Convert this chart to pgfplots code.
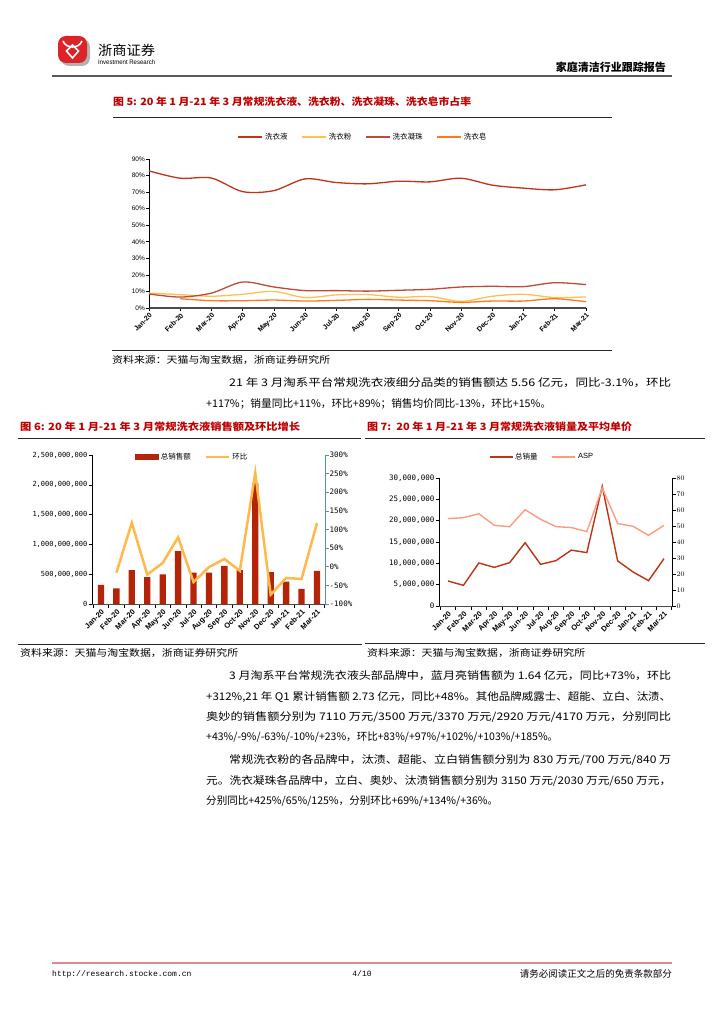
\documentclass[border=0pt]{standalone}
\usepackage{fontspec}
\setmainfont{Noto Sans CJK SC}
\newfontfamily\lib{Liberation Sans}
\newfontfamily\lmono{Liberation Mono}
\newfontfamily\dmono{DejaVu Sans Mono}
\usepackage{graphicx}
\usepackage{pgfplots}
\pgfplotsset{compat=1.18}
\definecolor{titlered}{RGB}{192,0,0}
\definecolor{ca}{RGB}{196,50,26}
\definecolor{cb}{RGB}{255,192,80}
\definecolor{cc}{RGB}{190,75,55}
\definecolor{cd}{RGB}{255,120,30}
\definecolor{barred}{RGB}{180,36,8}
\definecolor{hbline}{RGB}{255,185,75}
\definecolor{blueax}{RGB}{85,140,200}
\definecolor{volred}{RGB}{192,50,20}
\definecolor{aspc}{RGB}{255,155,125}
\definecolor{footred}{RGB}{220,140,140}
\definecolor{logored}{RGB}{220,35,40}
\newcommand{\tline}[4]{\node[anchor=west,inner sep=0pt,font=\fontsize{10.5}{12}\selectfont] at (#1pt,-#2pt) {\resizebox{#3pt}{\height}{#4}};}
\newcommand{\ttitle}[4]{\node[anchor=west,inner sep=0pt,text=titlered,font=\bfseries\fontsize{10}{11}\selectfont] at (#1pt,-#2pt) {\resizebox{#3pt}{\height}{#4}};}
\newcommand{\tsrc}[2]{\node[anchor=west,inner sep=0pt,font=\fontsize{9.5}{10}\selectfont] at (#1pt,-#2pt) {\resizebox{218pt}{\height}{资料来源：天猫与淘宝数据，浙商证券研究所}};}
\newcommand{\myrule}[4]{\draw[#4] (#1pt,-#3pt) -- (#2pt,-#3pt);}
\begin{document}
\begin{tikzpicture}
\useasboundingbox (0pt,0pt) rectangle (724pt,-1024pt);
\fill[white] (0pt,0pt) rectangle (724pt,-1024pt);
% header
\fill[black!30, rounded corners=8pt] (61pt,-39pt) rectangle (90pt,-66pt);
\fill[logored, rounded corners=8pt] (58pt,-36pt) rectangle (87pt,-63pt);
\draw[white, line width=1.6pt] (63pt,-41pt) .. controls (66pt,-49pt) and (79pt,-49pt) .. (82pt,-41pt);
\draw[white, line width=1.6pt] (72.5pt,-45pt) -- (66.5pt,-51pt) -- (72.5pt,-58pt) -- (78.5pt,-51pt) -- cycle;
\node[anchor=west,inner sep=0pt,font=\fontsize{13.5}{14}\selectfont] at (98pt,-50pt) {\resizebox{57pt}{\height}{浙商证券}};
\node[anchor=west,inner sep=0pt,font=\lib\fontsize{6.5}{7}\selectfont] at (98pt,-62.5pt) {\resizebox{57pt}{\height}{Investment Research}};
\node[anchor=east,inner sep=0pt,font=\bfseries\fontsize{11}{12}\selectfont] at (666pt,-67pt) {家庭清洁行业跟踪报告};
\myrule{52}{672}{76}{black!65, line width=1.3pt}
% figure 5
\ttitle{113}{102}{358}{图 5: 20 年 1 月-21 年 3 月常规洗衣液、洗衣粉、洗衣凝珠、洗衣皂市占率}
\myrule{113}{612}{117}{black!85, line width=0.8pt}
\begin{axis}[at={(149pt,-308pt)}, anchor=south west, scale only axis, width=437pt, height=149pt,
 xmin=0, xmax=14, ymin=0, ymax=90, clip=false,
 axis x line=bottom, axis y line=left, axis line style={-},
 x axis line style={black!70, line width=1.5pt}, y axis line style={black, line width=0.9pt},
 xtick={0,...,14},
 xticklabels={Jan-20,Feb-20,Mar-20,Apr-20,May-20,Jun-20,Jul-20,Aug-20,Sep-20,Oct-20,Nov-20,Dec-20,Jan-21,Feb-21,Mar-21},
 x tick label style={rotate=45, anchor=north east, inner sep=1pt, font=\lib\bfseries\fontsize{7}{7}\selectfont},
 ytick={0,10,...,90},
 yticklabels={0\%,10\%,20\%,30\%,40\%,50\%,60\%,70\%,80\%,90\%},
 y tick label style={font=\lib\fontsize{6.5}{7}\selectfont, inner sep=1pt},
 tick align=outside, major tick length=3pt, tick style={black, line width=0.6pt},
 legend style={at={(0.49,1.148)}, anchor=center, draw=none, fill=none, legend columns=4,
   font=\fontsize{7.5}{8}\selectfont, /tikz/every even column/.append style={column sep=12pt}},
 legend image code/.code={\draw[#1] (0pt,0pt) -- (24pt,0pt);},
]
\addplot[ca, line width=1.3pt, smooth] coordinates {(0,82.8) (1,78.4) (2,78.5) (3,70.3) (4,70.9) (5,78.0) (6,75.8) (7,75.0) (8,76.6) (9,76.2) (10,78.4) (11,74.2) (12,72.4) (13,71.4) (14,74.4)};
\addlegendentry{洗衣液}
\addplot[cb, line width=1.3pt, smooth] coordinates {(0,9.0) (1,8.1) (2,7.1) (3,8.3) (4,10.0) (5,6.3) (6,7.9) (7,8.1) (8,6.5) (9,6.9) (10,4.0) (11,7.1) (12,8.3) (13,6.3) (14,6.7)};
\addlegendentry{洗衣粉}
\addplot[cc, line width=1.3pt, smooth] coordinates {(0,8.5) (1,6.6) (2,9.0) (3,15.7) (4,12.7) (5,10.5) (6,10.5) (7,10.2) (8,10.7) (9,11.3) (10,12.7) (11,13.1) (12,12.9) (13,15.3) (14,14.1)};
\addlegendentry{洗衣凝珠}
\addplot[cd, line width=1.3pt, smooth] coordinates {(1,5.6) (2,4.4) (3,4.4) (4,4.8) (5,4.2) (6,4.6) (7,5.2) (8,4.8) (9,4.4) (10,3.4) (11,4.2) (12,4.2) (13,5.6) (14,3.8)};
\addlegendentry{洗衣皂}
\end{axis}
\myrule{112}{612}{350}{black!85, line width=0.8pt}
\tsrc{112}{360}
% paragraph 1
\tline{229}{383}{442}{21 年 3 月淘系平台常规洗衣液细分品类的销售额达 5.56 亿元，同比-3.1\%，环比}
\tline{206}{404}{345}{+117\%；销量同比+11\%，环比+89\%；销售均价同比-13\%，环比+15\%。}
% figure 6
\ttitle{20}{427}{280}{图 6: 20 年 1 月-21 年 3 月常规洗衣液销售额及环比增长}
\myrule{18}{361}{438}{black!85, line width=0.8pt}
\begin{axis}[at={(92pt,-604pt)}, anchor=south west, scale only axis, width=233pt, height=149pt,
 xmin=-0.58, xmax=14.52, ymin=0, ymax=2500,
 axis x line=bottom, axis y line=left, axis line style={-},
 x axis line style={black!70, line width=1pt}, y axis line style={black, line width=0.8pt},
 xtick={-0.5,0.5,...,14.5}, x tick label as interval,
 xticklabels={Jan-20,Feb-20,Mar-20,Apr-20,May-20,Jun-20,Jul-20,Aug-20,Sep-20,Oct-20,Nov-20,Dec-20,Jan-21,Feb-21,Mar-21},
 x tick label style={rotate=45, anchor=north east, inner sep=1pt, font=\lib\bfseries\fontsize{7.5}{7.5}\selectfont},
 ytick={0,500,...,2500},
 yticklabels={0,{500,000,000},{1,000,000,000},{1,500,000,000},{2,000,000,000},{2,500,000,000}},
 y tick label style={font=\dmono\fontsize{7}{7}\selectfont, inner sep=1pt},
 tick align=outside, major tick length=3.5pt, tick style={black, line width=0.6pt},
 ybar, bar width=6.3pt,
]
\addplot[fill=barred, draw=none] coordinates {(0,320) (1,263) (2,570) (3,453) (4,498) (5,889) (6,526) (7,526) (8,638) (9,570) (10,2025) (11,537) (12,375) (13,252) (14,556)};
\end{axis}
\begin{axis}[at={(92pt,-604pt)}, anchor=south west, scale only axis, width=233pt, height=149pt,
 xmin=-0.58, xmax=14.52, ymin=-100, ymax=300, xtick=\empty,
 axis x line=none, axis y line*=right, axis line style={-},
 y axis line style={blueax, line width=1pt},
 ytick={-100,-50,...,300},
 yticklabels={-100\%,-50\%,0\%,50\%,100\%,150\%,200\%,250\%,300\%},
 y tick label style={font=\dmono\fontsize{7.5}{7.5}\selectfont, inner sep=1pt},
 tick align=outside, major tick length=3.5pt, tick style={blueax, line width=0.6pt},
 legend style={at={(0.431,0.987)}, anchor=center, draw=none, fill=none, legend columns=2,
   font=\fontsize{7.5}{8}\selectfont, /tikz/every even column/.append style={column sep=12pt}},
 legend image code/.code={\draw[#1] (0pt,0pt) -- (23pt,0pt);},
]
\addlegendimage{legend image code/.code={\fill[barred] (0pt,-2.6pt) rectangle (23pt,2.6pt);}}
\addlegendentry{总销售额}
\addplot[hbline, line width=2.5pt] coordinates {(1,-16) (2,118) (3,-21) (4,10) (5,79) (6,-41) (7,-1) (8,21) (9,-11) (10,252) (11,-75) (12,-30) (13,-33) (14,117)};
\addlegendentry{环比}
\end{axis}
\myrule{18}{362}{644}{black!85, line width=0.8pt}
\tsrc{20}{653}
% figure 7
\ttitle{367}{427}{265}{图 7:\ \ 20 年 1 月-21 年 3 月常规洗衣液销量及平均单价}
\myrule{365}{705}{438}{black!85, line width=0.8pt}
\begin{axis}[at={(439pt,-606pt)}, anchor=south west, scale only axis, width=233pt, height=128pt,
 xmin=-0.58, xmax=14.52, ymin=0, ymax=30,
 axis x line=bottom, axis y line=left, axis line style={-},
 x axis line style={black!70, line width=1pt}, y axis line style={black, line width=0.8pt},
 xtick={-0.5,0.5,...,14.5}, x tick label as interval,
 xticklabels={Jan-20,Feb-20,Mar-20,Apr-20,May-20,Jun-20,Jul-20,Aug-20,Sep-20,Oct-20,Nov-20,Dec-20,Jan-21,Feb-21,Mar-21},
 x tick label style={rotate=45, anchor=north east, inner sep=1pt, font=\lib\bfseries\fontsize{7.5}{7.5}\selectfont},
 ytick={0,5,...,30},
 yticklabels={0,{5,000,000},{10,000,000},{15,000,000},{20,000,000},{25,000,000},{30,000,000}},
 y tick label style={font=\dmono\fontsize{7.5}{7.5}\selectfont, inner sep=1pt},
 tick align=outside, major tick length=3.5pt, tick style={black, line width=0.6pt},
]
\addplot[volred, line width=1.4pt] coordinates {(0,5.86) (1,4.84) (2,10.08) (3,9.06) (4,10.16) (5,14.84) (6,9.77) (7,10.63) (8,13.1) (9,12.5) (10,28.05) (11,10.55) (12,7.97) (13,5.94) (14,11.1)};
\end{axis}
\begin{axis}[at={(439pt,-606pt)}, anchor=south west, scale only axis, width=233pt, height=128pt,
 xmin=-0.58, xmax=14.52, ymin=0, ymax=80, xtick=\empty,
 axis x line=none, axis y line*=right, axis line style={-},
 y axis line style={black, line width=0.8pt},
 ytick={0,10,...,80},
 y tick label style={font=\dmono\fontsize{7.5}{7.5}\selectfont, inner sep=1pt},
 tick align=outside, major tick length=3.5pt, tick style={black, line width=0.6pt},
 legend style={at={(0.442,1.164)}, anchor=center, draw=none, fill=none, legend columns=2,
   font=\fontsize{7.5}{8}\selectfont, /tikz/every even column/.append style={column sep=12pt}},
 legend image code/.code={\draw[#1] (0pt,0pt) -- (23pt,0pt);},
]
\addlegendimage{volred, line width=1.4pt}
\addlegendentry{总销量}
\addplot[aspc, line width=1.4pt] coordinates {(0,54.6) (1,55.2) (2,57.7) (3,50.4) (4,49.6) (5,60.2) (6,54.2) (7,49.6) (8,49.0) (9,46.5) (10,73.75) (11,51.5) (12,49.8) (13,44.2) (14,50.4)};
\addlegendentry{\lib ASP}
\end{axis}
\myrule{365}{705}{643}{black!85, line width=0.8pt}
\tsrc{367}{653}
% paragraph 2 and 3
\tline{229}{676}{442}{3 月淘系平台常规洗衣液头部品牌中，蓝月亮销售额为 1.64 亿元，同比+73\%，环比}
\tline{206}{697}{465}{+312\%,21 年 Q1 累计销售额 2.73 亿元，同比+48\%。其他品牌威露士、超能、立白、汰渍、}
\tline{206}{717}{465}{奥妙的销售额分别为 7110 万元/3500 万元/3370 万元/2920 万元/4170 万元，分别同比}
\tline{206}{737}{352}{+43\%/-9\%/-63\%/-10\%/+23\%，环比+83\%/+97\%/+102\%/+103\%/+185\%。}
\tline{229}{760}{442}{常规洗衣粉的各品牌中，汰渍、超能、立白销售额分别为 830 万元/700 万元/840 万}
\tline{206}{781}{465}{元。洗衣凝珠各品牌中，立白、奥妙、汰渍销售额分别为 3150 万元/2030 万元/650 万元，}
\tline{206}{801}{292}{分别同比+425\%/65\%/125\%，分别环比+69\%/+134\%/+36\%。}
% footer
\myrule{52}{672}{963}{footred, line width=1.6pt}
\node[anchor=west,inner sep=0pt,font=\lmono\fontsize{8}{9}\selectfont] at (52pt,-974pt) {http://research.stocke.com.cn};
\node[inner sep=0pt,font=\lmono\fontsize{8}{9}\selectfont] at (362pt,-974pt) {4/10};
\node[anchor=east,inner sep=0pt,font=\fontsize{9.5}{10}\selectfont] at (672pt,-974pt) {请务必阅读正文之后的免责条款部分};
\end{tikzpicture}
\end{document}
